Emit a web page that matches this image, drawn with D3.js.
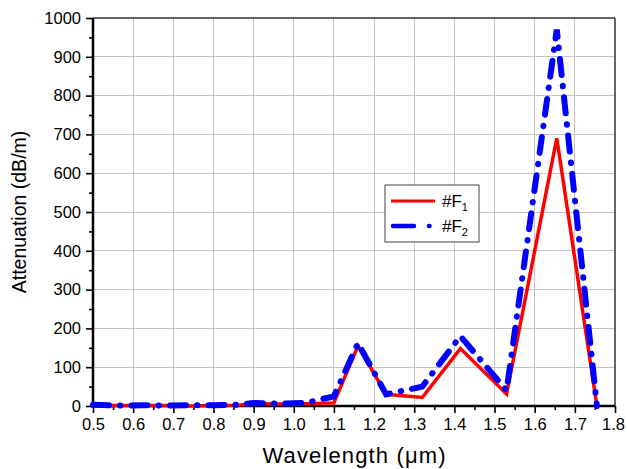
<!DOCTYPE html>
<meta charset="utf-8">
<style>
    body { margin: 0; background: #fff; }
    svg { font-family: Arial, "Liberation Sans", sans-serif; }
    .grid line { stroke: #c4c4c4; stroke-width: 1px; shape-rendering: crispEdges; }
    .axis path { display: none; }
    .axis line { stroke: #000; stroke-width: 1.6px; }
    .axis text { font-size: 16.5px; fill: #000; }
</style>
<svg width="627" height="469"></svg>
<script src="https://cdn.jsdelivr.net/npm/d3@7/dist/d3.min.js"></script>
<script>
    // wavelength (um) sample points
    var wavelength = [0.5, 0.56, 0.62, 0.68, 0.74, 0.8, 0.86, 0.9, 0.96, 1.03, 1.1, 1.16, 1.23, 1.32, 1.415, 1.53, 1.655, 1.755];
    // attenuation dB/m
    var f1 = [2, 1, 1, 1, 0, 1, 2, 6, 5, 6, 8, 155, 30, 22, 148, 31, 690, 0];
    var f2 = [3, 1, 2, 1, 2, 2, 3, 8, 6, 8, 25, 162, 30, 50, 180, 40, 970, 0];
    var seriesNames = ["#F", "#F"];
    var seriesSubs = ["1", "2"];
    var xTicks = [0.5, 0.6, 0.7, 0.8, 0.9, 1.0, 1.1, 1.2, 1.3, 1.4, 1.5, 1.6, 1.7, 1.8];
    var yTicks = [0, 100, 200, 300, 400, 500, 600, 700, 800, 900, 1000];

    var svg = d3.select("svg"),
        margin = {top: 18, right: 12, bottom: 63, left: 93},
        width = +svg.attr("width") - margin.left - margin.right,
        height = +svg.attr("height") - margin.top - margin.bottom;

    var x = d3.scaleLinear().domain([0.5, 1.8]).range([0, width]);
    var y = d3.scaleLinear().domain([0, 1000]).range([height, 0]);

    var g = svg.append("g")
        .attr("transform", "translate(" + margin.left + "," + margin.top + ")");

    // grid
    g.append("g").attr("class", "grid")
        .selectAll("line").data(xTicks.slice(1, -1)).enter().append("line")
        .attr("x1", function(d) { return x(d); }).attr("x2", function(d) { return x(d); })
        .attr("y1", 0).attr("y2", height);
    g.append("g").attr("class", "grid")
        .selectAll("line").data(yTicks.slice(1, -1)).enter().append("line")
        .attr("y1", function(d) { return y(d); }).attr("y2", function(d) { return y(d); })
        .attr("x1", 0).attr("x2", width);

    // minor ticks
    var xMinor = d3.range(0.55, 1.8, 0.1);
    var yMinor = d3.range(50, 1000, 100);

    g.append("g")
        .attr("class", "axis")
        .attr("transform", "translate(0," + height + ")")
        .call(d3.axisBottom(x).tickValues(xMinor).tickSize(4).tickFormat(""));
    g.append("g")
        .attr("class", "axis")
        .call(d3.axisLeft(y).tickValues(yMinor).tickSize(4).tickFormat(""));

    var xAxis = g.append("g")
        .attr("class", "axis")
        .attr("transform", "translate(0," + height + ")")
        .call(d3.axisBottom(x).tickValues(xTicks).tickSize(7).tickPadding(5).tickFormat(d3.format(".1f")));
    // keep the last label inside the page
    xAxis.selectAll(".tick:last-of-type text").attr("dx", -2);
    g.append("g")
        .attr("class", "axis")
        .call(d3.axisLeft(y).tickValues(yTicks).tickSize(7).tickPadding(5).tickFormat(d3.format("d")));

    // frame
    g.append("line").attr("x1", 0).attr("x2", width).attr("y1", 0).attr("y2", 0)
        .attr("stroke", "#333").attr("stroke-width", 1.5);
    g.append("line").attr("x1", width).attr("x2", width).attr("y1", 0).attr("y2", height)
        .attr("stroke", "#333").attr("stroke-width", 1.5);
    g.append("line").attr("x1", 0).attr("x2", 0).attr("y1", 0).attr("y2", height)
        .attr("stroke", "#000").attr("stroke-width", 2.5);
    g.append("line").attr("x1", 0).attr("x2", width).attr("y1", height).attr("y2", height)
        .attr("stroke", "#000").attr("stroke-width", 2.5);

    var line = d3.line()
        .x(function(d) { return x(d[0]); })
        .y(function(d) { return y(d[1]); });

    g.append("path")
        .datum(d3.zip(wavelength, f1))
        .attr("fill", "none")
        .attr("stroke", "#ff0000")
        .attr("stroke-width", 3.5)
        .attr("d", line);

    g.append("path")
        .datum(d3.zip(wavelength, f2))
        .attr("fill", "none")
        .attr("stroke", "#0000ff")
        .attr("stroke-width", 6)
        .attr("stroke-linecap", "round")
        .attr("stroke-dasharray", "16,11,0.5,11")
        .attr("d", line);

    // axis titles
    svg.append("text")
        .attr("x", margin.left + x(1.15))
        .attr("y", 463)
        .attr("text-anchor", "middle")
        .attr("textLength", 183)
        .style("font-size", "22px")
        .style("fill", "#000")
        .text("Wavelength (\u03bcm)");

    svg.append("text")
        .attr("transform", "translate(26," + (margin.top + y(500)) + ") rotate(-90)")
        .attr("text-anchor", "middle")
        .style("font-size", "19.5px")
        .style("fill", "#000")
        .text("Attenuation (dB/m)");

    // legend
    var legend = svg.append("g").attr("transform", "translate(385,185)");
    legend.append("rect")
        .attr("width", 94).attr("height", 57)
        .attr("fill", "#fff").attr("stroke", "#444").attr("stroke-width", 1);
    var styles = [
        {stroke: "#ff0000", w: 3, dash: null, cap: "butt"},
        {stroke: "#0000ff", w: 4.5, dash: "21,15,0.5,30", cap: "round"}
    ];
    seriesNames.forEach(function(name, i) {
        var yy = 16 + i * 25;
        legend.append("line")
            .attr("x1", i ? 8 : 6).attr("x2", 50).attr("y1", yy).attr("y2", yy)
            .attr("stroke", styles[i].stroke)
            .attr("stroke-width", styles[i].w)
            .attr("stroke-linecap", styles[i].cap)
            .attr("stroke-dasharray", styles[i].dash);
        var t = legend.append("text")
            .attr("x", 57).attr("y", yy + 6)
            .style("font-size", "17px").style("fill", "#000")
            .text(name);
        t.append("tspan").attr("dy", 4).style("font-size", "11px").text(seriesSubs[i]);
    });
</script>
